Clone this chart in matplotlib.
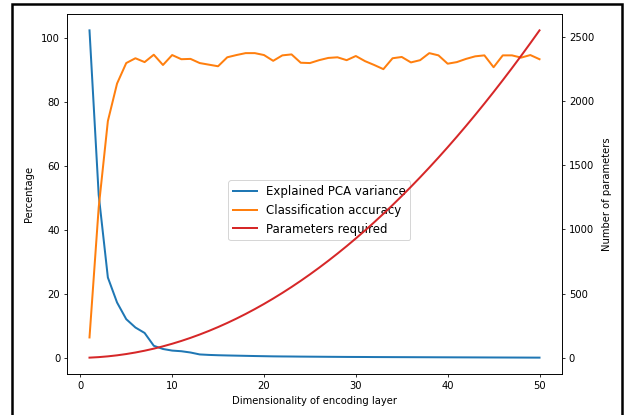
import matplotlib
matplotlib.use("Agg")
import matplotlib.pyplot as plt
from matplotlib.patches import Rectangle

dims = list(range(1, 51))

pca_variance = [102.3, 51.0, 25.2, 17.4, 12.2, 9.6, 7.9, 3.9, 2.9, 2.4,
                2.2, 1.8, 1.2, 1.05, 0.95, 0.88, 0.82, 0.76, 0.7, 0.65,
                0.6, 0.57, 0.55, 0.52, 0.5, 0.48, 0.46, 0.44, 0.42, 0.41,
                0.4, 0.38, 0.37, 0.36, 0.35, 0.34, 0.33, 0.32, 0.31, 0.3,
                0.29, 0.28, 0.27, 0.26, 0.25, 0.24, 0.23, 0.22, 0.21, 0.2]

accuracy = [6.5, 47.0, 74.0, 85.7, 92.1, 93.6, 92.4, 94.7, 91.5, 94.6,
            93.3, 93.4, 92.1, 91.6, 91.1, 93.9, 94.6, 95.2, 95.2, 94.6,
            92.8, 94.5, 94.8, 92.2, 92.1, 93.0, 93.7, 93.9, 93.0, 94.3,
            92.7, 91.5, 90.2, 93.6, 94.0, 92.3, 93.0, 95.2, 94.5, 91.9,
            92.4, 93.4, 94.2, 94.5, 90.8, 94.5, 94.5, 93.8, 94.6, 93.3]

params = [2, 6, 12, 20, 30, 42, 56, 72, 90, 110,
          132, 156, 182, 210, 240, 272, 306, 342, 380, 420,
          462, 506, 552, 600, 650, 702, 756, 812, 870, 930,
          992, 1056, 1122, 1190, 1260, 1332, 1406, 1482, 1560, 1640,
          1722, 1806, 1892, 1980, 2070, 2162, 2256, 2352, 2450, 2550]

plt.rcParams["font.size"] = 10
plt.rcParams["xtick.major.size"] = 3.3
plt.rcParams["ytick.major.size"] = 3.3

fig = plt.figure(figsize=(627 / 72, 415 / 72), dpi=72)
ax = fig.add_axes([67 / 627, 1 - 374 / 415, 495 / 627, 360 / 415])
ax2 = ax.twinx()

l1, = ax.plot(dims, pca_variance, color="#1f77b4", lw=2, label="Explained PCA variance")
l2, = ax.plot(dims, accuracy, color="#ff7f0e", lw=2, label="Classification accuracy")
l3, = ax2.plot(dims, params, color="#d62728", lw=2, label="Parameters required")

ax.set_xlabel("Dimensionality of encoding layer", labelpad=5)
ax.set_ylabel("Percentage", labelpad=7)
ax2.set_ylabel("Number of parameters", labelpad=8)
ax.set_xticks([0, 10, 20, 30, 40, 50])
ax.set_yticks([0, 20, 40, 60, 80, 100])
ax2.set_yticks([0, 500, 1000, 1500, 2000, 2500])

ax.legend(handles=[l1, l2, l3], loc="center", bbox_to_anchor=(0.51, 0.455),
          fontsize=11.7)

# black frame around the figure (bottom edge is cut off in the original)
fig.patches.append(Rectangle((12 / 627, -0.1), 610 / 627, 1.1 - 4 / 415,
                             transform=fig.transFigure, fill=False,
                             edgecolor="black", lw=2.5, clip_on=False))

fig.savefig("out.png", dpi=72)
